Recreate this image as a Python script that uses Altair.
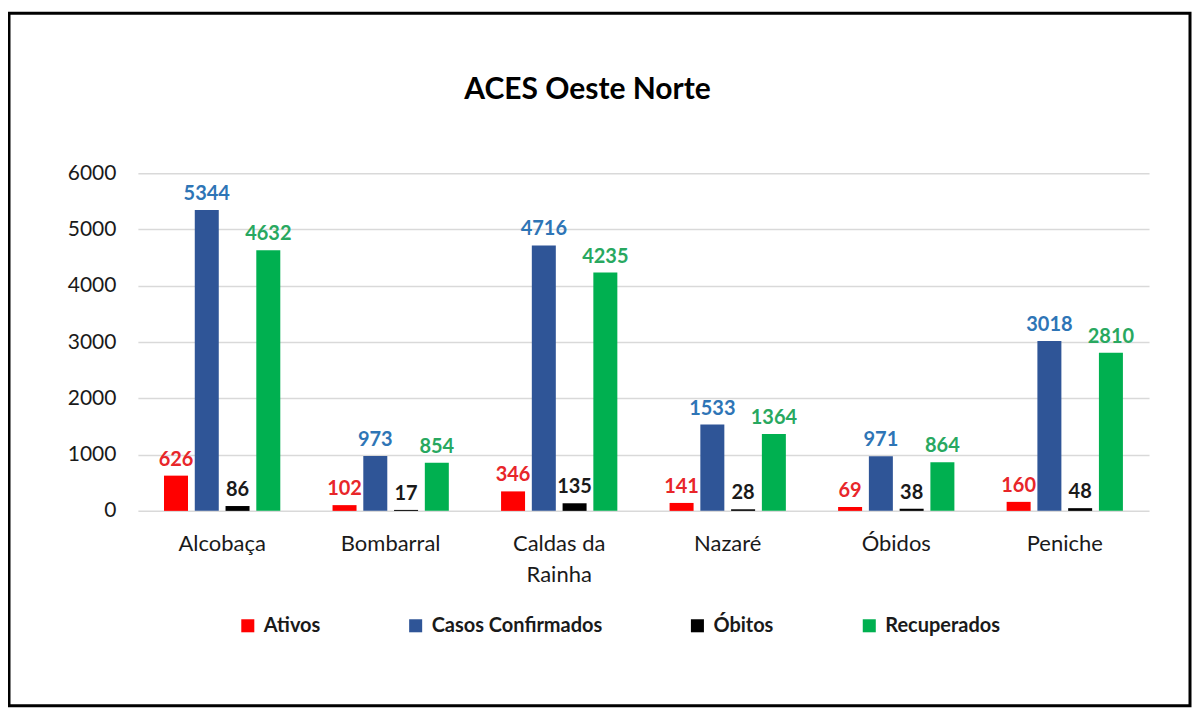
import altair as alt
import pandas as pd

categories = ["Alcobaça", "Bombarral", "Caldas da Rainha", "Nazaré", "Óbidos", "Peniche"]
series = ["Ativos", "Casos Confirmados", "Óbitos", "Recuperados"]
ativos = [626, 102, 346, 141, 69, 160]
casos = [5344, 973, 4716, 1533, 971, 3018]
obitos = [86, 17, 135, 28, 38, 48]
recuperados = [4632, 854, 4235, 1364, 864, 2810]
bar_colors = ["#ff0000", "#2f5597", "#000000", "#00b050"]
label_colors = ["#e8262a", "#2e75b6", "#1a1a1a", "#28a860"]
y_ticks = [0, 1000, 2000, 3000, 4000, 5000, 6000]
chart_title = "ACES Oeste Norte"

rows = []
for s, vals in zip(series, [ativos, casos, obitos, recuperados]):
    for c, v in zip(categories, vals):
        rows.append({"municipio": c, "serie": s, "valor": v})
df = pd.DataFrame(rows)

FONT = "Lato"

x_enc = alt.X(
    "municipio:N",
    sort=categories,
    scale=alt.Scale(paddingInner=0.31, paddingOuter=0.155),
    axis=alt.Axis(
        title=None, labelAngle=0, labelFontSize=22, labelColor="#1a1a1a",
        labelPadding=23, ticks=False, domain=False, labelFont=FONT,
        labelExpr="datum.label == 'Caldas da Rainha' ? ['Caldas da', 'Rainha'] : datum.label",
        labelLineHeight=31, labelBaseline="top",
    ),
)
xoff_enc = alt.XOffset("serie:N", sort=series, scale=alt.Scale(domain=series, paddingInner=0.22))
y_enc = alt.Y(
    "valor:Q",
    scale=alt.Scale(domain=[0, 6000]),
    axis=alt.Axis(
        values=y_ticks, title=None, grid=True, gridColor="#d9d9d9", gridWidth=1.5,
        domain=False, ticks=False, labelFontSize=21, labelPadding=22,
        format="d", labelColor="#1a1a1a", labelFont=FONT,
    ),
)

base = alt.Chart(df)

bars = base.mark_bar().encode(
    x=x_enc,
    xOffset=xoff_enc,
    y=y_enc,
    color=alt.Color(
        "serie:N", sort=series,
        scale=alt.Scale(domain=series, range=bar_colors),
        legend=alt.Legend(
            title=None, orient="none", legendX=100, legendY=443,
            direction="horizontal", columns=4, symbolType="square",
            symbolSize=170, symbolStrokeWidth=0, labelFontSize=20,
            labelFontWeight="bold", labelFont=FONT, labelColor="#1a1a1a",
            columnPadding=85, labelOffset=6, labelLimit=400,
        ),
    ),
)

labels = base.mark_text(
    baseline="alphabetic", dy=-10, fontWeight="bold", fontSize=20, font=FONT
).encode(
    x=x_enc,
    xOffset=xoff_enc,
    y=y_enc,
    text=alt.Text("valor:Q", format="d"),
    color=alt.Color(
        "serie:N", sort=series,
        scale=alt.Scale(domain=series, range=label_colors),
        legend=None,
    ),
)

one = pd.DataFrame({"t": [chart_title]})

title = alt.Chart(one).mark_text(
    fontSize=30, fontWeight="bold", font=FONT, color="#000000",
    align="center", baseline="middle",
).encode(text="t:N", x=alt.value(450), y=alt.value(-83))

frame = alt.Chart(one).mark_rect(
    fillOpacity=0, stroke="#000000", strokeWidth=3
).encode(
    x=alt.value(-129), x2=alt.value(1053), y=alt.value(-160), y2=alt.value(533)
)

chart = alt.layer(bars, labels, title, frame).resolve_scale(color="independent").properties(
    width=1012,
    height=338,
    autosize=alt.AutoSizeParams(type="none"),
    padding={"left": 130, "top": 165, "right": 43, "bottom": 197},
).configure(font=FONT).configure_view(strokeWidth=0, stroke=None)

chart.save("out.html", embed_options={"renderer": "svg", "actions": False})
